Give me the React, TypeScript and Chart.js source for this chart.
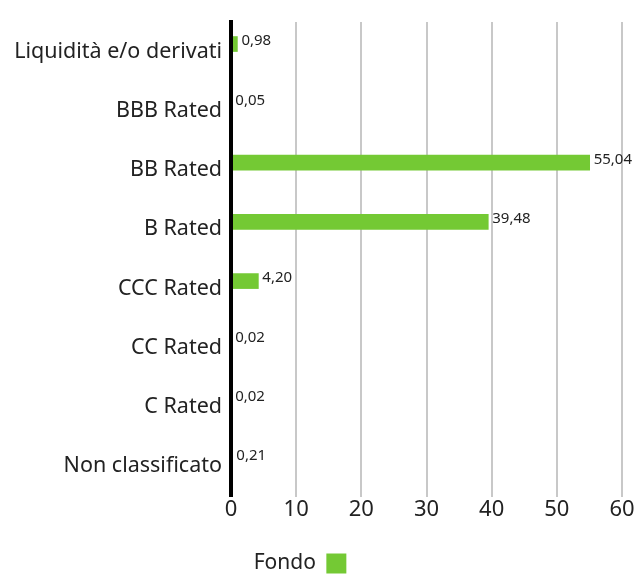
import React, { useEffect, useRef } from "react";
import { Chart, registerables } from "chart.js";

Chart.register(...registerables);

const categories = [
  "Liquidità e/o derivati",
  "BBB Rated",
  "BB Rated",
  "B Rated",
  "CCC Rated",
  "CC Rated",
  "C Rated",
  "Non classificato",
];
const fondoLabel = "Fondo";
const fondoValues = [0.98, 0.05, 55.04, 39.48, 4.2, 0.02, 0.02, 0.21];
const benchmarkLabel = "";
const benchmarkValues: (number | null)[] = [null, null, null, null, null, null, null, null];
const xTickValues = [0, 10, 20, 30, 40, 50, 60];

const FONT = "'Noto Sans', sans-serif";
const GREEN = "#74c934";
const TEXT = "#222222";
const LEGEND_DX = -17;
const LEGEND_DY = 10;

export default function App() {
  const ref = useRef<HTMLCanvasElement | null>(null);

  useEffect(() => {
    if (!ref.current) return;

    const shiftLegend = {
      id: "shiftLegend",
      afterLayout(chart: any) {
        const lg = chart.legend;
        if (!lg) return;
        lg.left += LEGEND_DX;
        lg.right += LEGEND_DX;
        lg.top += LEGEND_DY;
        lg.bottom += LEGEND_DY;
      },
    };

    const valueLabels = {
      id: "valueLabels",
      afterDatasetsDraw(chart: any) {
        const ctx = chart.ctx;
        const meta = chart.getDatasetMeta(0);
        ctx.save();
        ctx.font = `15px ${FONT}`;
        ctx.fillStyle = TEXT;
        ctx.textAlign = "left";
        ctx.textBaseline = "middle";
        meta.data.forEach((bar: any, i: number) => {
          const v = fondoValues[i];
          const p = bar.getProps(["x", "y"], true);
          ctx.fillText(v.toFixed(2).replace(".", ","), p.x + 4, p.y - 3);
        });
        ctx.restore();
      },
    };

    const chart = new Chart(ref.current, {
      type: "bar",
      data: {
        labels: categories,
        datasets: [
          {
            label: fondoLabel,
            data: fondoValues,
            backgroundColor: GREEN,
            borderWidth: 0,
            barThickness: 15,
          },
          {
            label: benchmarkLabel,
            data: benchmarkValues,
            backgroundColor: "#cccccc",
            borderWidth: 0,
            barThickness: 15,
          },
        ],
      },
      options: {
        indexAxis: "y",
        responsive: false,
        animation: false,
        events: [],
        devicePixelRatio: 1,
        layout: { padding: { top: 16, left: 0, right: 0, bottom: 0 } },
        font: { family: FONT },
        scales: {
          x: {
            min: 0,
            max: 60,
            afterBuildTicks: (axis: any) => {
              axis.ticks = xTickValues.map((v) => ({ value: v }));
            },
            afterFit: (s: any) => {
              s.height = 47;
              s.paddingRight = 12;
            },
            ticks: {
              font: { family: FONT, size: 22 },
              color: TEXT,
              padding: 0,
            },
            grid: {
              color: (c: any) => (c.tick && c.tick.value === 0 ? "rgba(0,0,0,0)" : "#c8c8c8"),
              lineWidth: 2,
              drawTicks: true,
              tickLength: 1,
            },
            border: { display: false },
          },
          y: {
            afterFit: (s: any) => {
              s.width = 231;
            },
            ticks: {
              font: { family: FONT, size: 21.5 },
              color: TEXT,
              padding: 9,
            },
            grid: { color: "rgba(0,0,0,0)", drawTicks: false },
            border: { display: true, color: "#000000", width: 4, z: 1 },
          },
        },
        plugins: {
          tooltip: { enabled: false },
          legend: {
            position: "bottom",
            rtl: true,
            labels: {
              boxWidth: 20,
              boxHeight: 20,
              padding: 0,
              color: TEXT,
              font: { family: FONT, size: 21 },
              filter: (item: any) => item.text === fondoLabel,
            },
          },
        },
      },
      plugins: [shiftLegend, valueLabels],
    } as any);

    return () => chart.destroy();
  }, []);

  return (
    <div style={{ position: "absolute", left: 0, top: 0, width: 634, height: 574, background: "#fff" }}>
      <canvas ref={ref} width={634} height={574} style={{ display: "block" }} />
    </div>
  );
}
